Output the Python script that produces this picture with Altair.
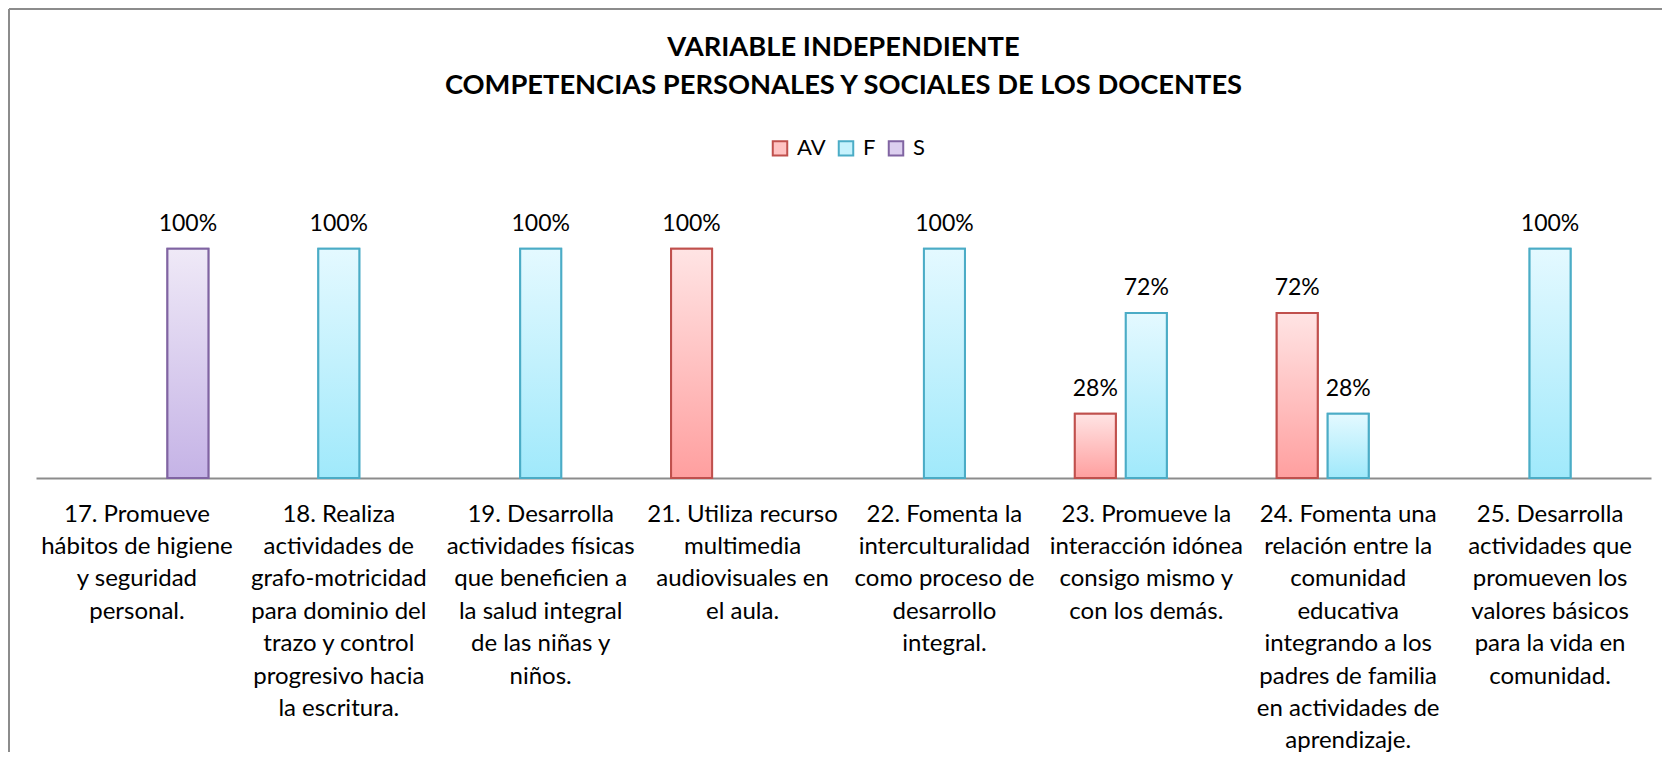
import altair as alt
import pandas as pd

categories = [
    "17. Promueve|hábitos de higiene|y seguridad|personal.",
    "18. Realiza|actividades de|grafo-motricidad|para dominio del|trazo y control|progresivo hacia|la escritura.",
    "19. Desarrolla|actividades físicas|que beneficien a|la salud integral|de las niñas y|niños.",
    "21. Utiliza recurso|multimedia|audiovisuales en|el aula.",
    "22. Fomenta la|interculturalidad|como proceso de|desarrollo|integral.",
    "23. Promueve la|interacción idónea|consigo mismo y|con los demás.",
    "24. Fomenta una|relación entre la|comunidad|educativa|integrando a los|padres de familia|en actividades de|aprendizaje.",
    "25. Desarrolla|actividades que|promueven los|valores básicos|para la vida en|comunidad.",
]
series_names = ["AV", "F", "S"]
av_values = [None, None, None, 1.00, None, 0.28, 0.72, None]
f_values = [None, 1.00, 1.00, None, 1.00, 0.72, 0.28, 1.00]
s_values = [1.00, None, None, None, None, None, None, None]

title_lines = ["VARIABLE INDEPENDIENTE", "COMPETENCIAS PERSONALES Y SOCIALES DE LOS DOCENTES"]

rows = []
for name, vals in zip(series_names, [av_values, f_values, s_values]):
    for c, v in zip(categories, vals):
        if v is not None:
            rows.append({"cat": c, "serie": name, "valor": v})
df = pd.DataFrame(rows)

strokes = {"AV": "#C0504D", "F": "#4BACC6", "S": "#8064A2"}
tops = {"AV": "#FFE4E4", "F": "#E4F9FF", "S": "#EFE9F7"}
bottoms = {"AV": "#FF9F9F", "F": "#A0E9FB", "S": "#C5B3E6"}
mids = {"AV": "#FFC3C3", "F": "#C6F2FD", "S": "#DCCFEF"}

FONT = "Lato"
W, H = 1615, 275
PAD_R, PAD_B = 11, 274

x_enc = alt.X(
    "cat:N",
    sort=categories,
    title=None,
    scale=alt.Scale(paddingInner=0, paddingOuter=0),
    axis=alt.Axis(
        labelExpr="split(datum.value, '|')",
        labelAngle=0,
        labelAlign="center",
        labelBaseline="top",
        labelFontSize=24,
        labelFont=FONT,
        labelColor="#000000",
        labelLineHeight=32.4,
        labelPadding=24,
        labelLimit=0,
        ticks=False,
        domainColor="#8C8C8C",
        domainWidth=2,
        grid=False,
    ),
)
xo_enc = alt.XOffset(
    "serie:N",
    scale=alt.Scale(domain=series_names, paddingInner=0.196, paddingOuter=0.578),
)
y_enc = alt.Y("valor:Q", scale=alt.Scale(domain=[0, 1.2]), axis=None)

base = alt.Chart(df)

def make_legend():
    return alt.Legend(
        title=None,
        orient="none",
        direction="horizontal",
        legendX=733,
        legendY=-66,
        symbolType="square",
        symbolSize=210,
        symbolStrokeWidth=2,
        labelFont=FONT,
        labelFontSize=22,
        labelColor="#000000",
        labelOffset=6,
        columnPadding=8,
        padding=0,
    )

legend_layer = base.mark_bar(strokeWidth=2).encode(
    x=x_enc,
    xOffset=xo_enc,
    y=y_enc,
    fill=alt.Fill(
        "serie:N",
        scale=alt.Scale(domain=series_names, range=[mids[s] for s in series_names]),
        legend=make_legend(),
    ),
    stroke=alt.Stroke(
        "serie:N",
        scale=alt.Scale(domain=series_names, range=[strokes[s] for s in series_names]),
        legend=make_legend(),
    ),
)

grad_layers = []
for s in series_names:
    grad = alt.Gradient(
        gradient="linear",
        stops=[alt.GradientStop(color=tops[s], offset=0), alt.GradientStop(color=bottoms[s], offset=1)],
        x1=0, x2=0, y1=0, y2=1,
    )
    grad_layers.append(
        base.transform_filter(alt.datum.serie == s)
        .mark_bar(fill=grad, stroke=strokes[s], strokeWidth=2)
        .encode(x=x_enc, xOffset=xo_enc, y=y_enc)
    )

labels = base.mark_text(
    dy=-25, baseline="middle", align="center", font=FONT, fontSize=23, color="#000000"
).encode(
    x=x_enc,
    xOffset=xo_enc,
    y=y_enc,
    text=alt.Text("valor:Q", format=".0%"),
)

frame_df = pd.DataFrame({"k": [0]})
border_top = alt.Chart(frame_df).mark_rule(stroke="#8C8C8C", strokeWidth=2).encode(
    x=alt.value(-27), x2=alt.value(W + PAD_R), y=alt.value(-194)
)
border_left = alt.Chart(frame_df).mark_rule(stroke="#8C8C8C", strokeWidth=2).encode(
    x=alt.value(-27), y=alt.value(-194), y2=alt.value(H + PAD_B)
)

chart = alt.layer(border_top, border_left, legend_layer, *grad_layers, labels).properties(
    width=W,
    height=H,
    padding={"left": 28, "top": 195, "right": PAD_R, "bottom": PAD_B},
    autosize=alt.AutoSizeParams(type="none"),
    title=alt.TitleParams(
        text=title_lines,
        font=FONT,
        fontSize=27.3,
        fontWeight="bold",
        color="#000000",
        anchor="middle",
        frame="group",
        lineHeight=38,
        offset=-91,
    ),
).configure(
    background="white",
    view=alt.ViewConfig(strokeWidth=0, stroke="transparent"),
)

chart.save("out.html", embed_options={"renderer": "svg", "actions": False})
